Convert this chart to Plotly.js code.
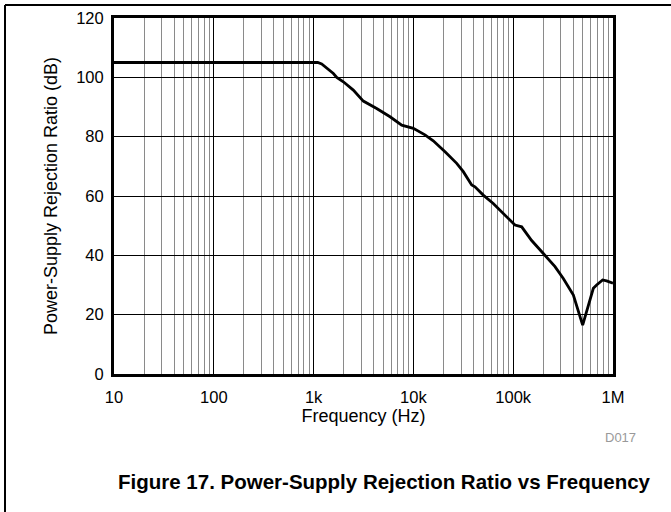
<!DOCTYPE html>
<html>
<head>
<meta charset="utf-8">
<script src="https://cdn.plot.ly/plotly-3.0.1.min.js"></script>
<style>
  html, body { margin: 0; padding: 0; background: #fff; }
  #chart { width: 671px; height: 512px; }
</style>
</head>
<body>
<div id="chart"></div>
<script>
// Frequency (Hz) and PSRR (dB)
const freqHz = [10, 100, 1000, 1100, 1205, 1578, 1706, 1986, 2500, 3148, 4285, 5834, 7638, 9977,
  13060, 15810, 20750, 27160, 31620, 38370, 41400, 50120, 63100, 79430, 104200, 121600,
  153100, 200400, 262400, 317700, 400900, 496600, 564900, 635300, 685500, 787000, 863000, 1000000];
const psrrDb = [105, 105, 105, 105, 104.5, 101.3, 100, 98.5, 95.7, 92, 89.5, 86.7, 83.9, 82.8,
  80.6, 78.6, 74.9, 71, 68.2, 63.7, 63.1, 60.3, 57.5, 54.2, 50.2, 49.6,
  45.0, 40.6, 36.2, 32.2, 26.6, 16.5, 22.7, 28.9, 30, 31.7, 31.4, 30.6];

const xTickVals = [10, 100, 1000, 10000, 100000, 1000000];
const xTickText = ['10', '100', '1k', '10k', '100k', '1M'];
const yTickVals = [0, 20, 40, 60, 80, 100, 120];

const figTitle = 'Figure 17. Power-Supply Rejection Ratio vs Frequency';
const xTitle = 'Frequency (Hz)';
const yTitle = 'Power-Supply Rejection Ratio (dB)';
const code = 'D017';

const font = 'Liberation Sans, Arial, sans-serif';

const trace = {
  x: freqHz, y: psrrDb, type: 'scatter', mode: 'lines',
  line: { color: '#000', width: 2.8, shape: 'linear' },
  hoverinfo: 'skip', showlegend: false
};

// paper coords for outer frame
const L = 114, R = 613, T = 18, B = 374;
const px = v => (v - L) / (R - L);
const py = v => (B - v) / (B - T);

const layout = {
  width: 671, height: 512,
  margin: { l: L, r: 671 - R, t: T, b: 512 - B },
  paper_bgcolor: '#fff', plot_bgcolor: '#fff',
  font: { family: font, size: 16, color: '#000' },
  xaxis: {
    type: 'log', range: [1, 6],
    tickvals: xTickVals, ticktext: xTickText,
    showgrid: true, gridcolor: '#000', gridwidth: 1,
    minor: { dtick: 'D1', showgrid: true, gridcolor: '#8a8a8a', gridwidth: 1, ticks: '' },
    showline: true, linecolor: '#000', linewidth: 3, mirror: true,
    ticks: '', zeroline: false, ticklabelstandoff: 6,
    tickfont: { family: font, size: 16.5, color: '#000' },
    title: { text: xTitle, font: { family: font, size: 18, color: '#000' }, standoff: 3 }
  },
  yaxis: {
    range: [0, 120], tickvals: yTickVals,
    showgrid: true, gridcolor: '#000', gridwidth: 1,
    showline: true, linecolor: '#000', linewidth: 3, mirror: true,
    ticks: '', zeroline: false, ticklabelstandoff: 4,
    tickfont: { family: font, size: 16.5, color: '#000' },
    title: { text: yTitle, font: { family: font, size: 18, color: '#000' }, standoff: 14 }
  },
  annotations: [
    { text: code, xref: 'paper', yref: 'paper', x: px(638), y: py(437), xanchor: 'right', yanchor: 'middle',
      showarrow: false, font: { family: font, size: 13, color: '#999' } },
    { text: '<b>' + figTitle + '</b>', xref: 'paper', yref: 'paper', x: px(384), y: py(481),
      xanchor: 'center', yanchor: 'middle', showarrow: false,
      font: { family: font, size: 20.5, color: '#000' } }
  ],
  shapes: [
    { type: 'line', xref: 'paper', yref: 'paper', x0: px(5), x1: px(671), y0: py(5), y1: py(5),
      line: { color: '#000', width: 2 } },
    { type: 'line', xref: 'paper', yref: 'paper', x0: px(5), x1: px(5), y0: py(5), y1: py(512),
      line: { color: '#000', width: 2 } }
  ]
};

Plotly.newPlot('chart', [trace], layout, { displayModeBar: false, staticPlot: true });
</script>
</body>
</html>
